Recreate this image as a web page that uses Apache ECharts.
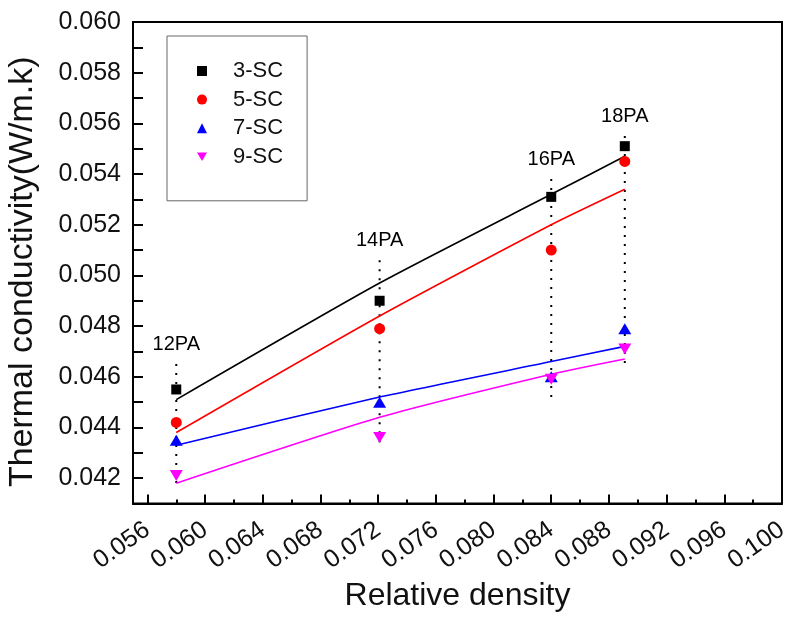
<!DOCTYPE html>
<html>
<head>
<meta charset="utf-8">
<script src="https://cdn.jsdelivr.net/npm/echarts@6/dist/echarts.min.js"></script>
<style>
  html, body { margin: 0; padding: 0; background: #fff; }
  #chart { width: 793px; height: 619px; }
</style>
</head>
<body>
<div id="chart"></div>
<script>
// values
const pressures = ['12PA', '14PA', '16PA', '18PA']
const density = [0.0580, 0.0721, 0.0840, 0.0891]
const sc3 = [0.0455, 0.0490, 0.0531, 0.0551]
const sc5 = [0.0442, 0.0479, 0.0510, 0.0545]
const sc7 = [0.0435, 0.0450, 0.0460, 0.0479]
const sc9 = [0.0421, 0.0436, 0.0459, 0.0471]
// fitted curves
const fit3 = [0.0451, 0.0497, 0.0532, 0.0547]
const fit5 = [0.0438, 0.0484, 0.0520, 0.0534]
const fit7 = [0.0433, 0.0452, 0.0466, 0.0472]
const fit9 = [0.0418, 0.0444, 0.0461, 0.0467]
// dotted guide lines
const dropTop = [0.0465, 0.0506, 0.0538, 0.0555]
const dropBottom = [0.0418, 0.0434, 0.0452, 0.0465]
// ticks
const xTicks = [0.056, 0.060, 0.064, 0.068, 0.072, 0.076, 0.080, 0.084, 0.088, 0.092, 0.096, 0.100]
const xMinorTicks = [0.058, 0.062, 0.066, 0.070, 0.074, 0.078, 0.082, 0.086, 0.090, 0.094, 0.098]
const yTicks = [0.042, 0.044, 0.046, 0.048, 0.050, 0.052, 0.054, 0.056, 0.058, 0.060]
const yMinorTicks = [0.043, 0.045, 0.047, 0.049, 0.051, 0.053, 0.055, 0.057, 0.059]

const FONT = 'Liberation Sans'
const pair = ys => density.map((x, i) => [x, ys[i]])

const groups = [
  { name: '3-SC', data: sc3, fit: fit3, color: '#000000', symbol: 'rect', size: 10 },
  { name: '5-SC', data: sc5, fit: fit5, color: '#ff0000', symbol: 'circle', size: 11 },
  { name: '7-SC', data: sc7, fit: fit7, color: '#0000ff', symbol: 'triangle', size: [13, 11] },
  { name: '9-SC', data: sc9, fit: fit9, color: '#ff00ff', symbol: 'path://M0,0L2,0L1,1.7Z', size: [13, 11] }
]

const series = []
groups.forEach(g => {
  series.push({
    name: g.name + ' fit',
    type: 'line',
    data: pair(g.fit),
    smooth: 0.2,
    showSymbol: false,
    lineStyle: { color: g.color, width: 1.6 },
    z: 3,
    silent: true
  })
})
density.forEach((x, i) => {
  series.push({
    type: 'line',
    data: [[x, dropTop[i]], [x, dropBottom[i]]],
    showSymbol: false,
    lineStyle: { color: '#000', width: 2, type: [2, 7] },
    z: 2,
    silent: true
  })
})
// pressure labels above the guide lines
series.push({
  type: 'scatter',
  data: pair(dropTop),
  symbolSize: 1,
  itemStyle: { color: 'rgba(0,0,0,0)', opacity: 1 },
  label: {
    show: true,
    position: 'top',
    distance: 9,
    formatter: p => pressures[p.dataIndex],
    fontFamily: FONT,
    fontSize: 20,
    color: '#000',
    opacity: 1
  },
  labelLayout: { hideOverlap: false },
  z: 4,
  silent: true
})
groups.forEach(g => {
  series.push({
    name: g.name,
    type: 'scatter',
    data: pair(g.data),
    symbol: g.symbol,
    symbolSize: g.size,
    itemStyle: { color: g.color, opacity: 1 },
    z: 5
  })
})

const chart = echarts.init(document.getElementById('chart'))
chart.setOption({
  backgroundColor: '#fff',
  animation: false,
  grid: {
    left: 133,
    right: 11,
    top: 22,
    bottom: 115.5,
    show: true,
    borderColor: '#000',
    borderWidth: 2,
    containLabel: false,
    outerBoundsMode: 'none'
  },
  legend: {
    data: groups.map(g => g.name),
    orient: 'vertical',
    left: 167,
    top: 36,
    itemWidth: 10,
    itemHeight: 10,
    itemGap: 6.6,
    padding: [24, 24, 33, 30],
    borderColor: '#666',
    borderWidth: 1,
    textStyle: {
      fontFamily: FONT,
      fontSize: 22,
      color: '#111',
      lineHeight: 18,
      padding: [0, 0, 0, 21]
    }
  },
  xAxis: [
    {
      type: 'value',
      min: 0.055,
      max: 0.100,
      name: 'Relative density',
      nameLocation: 'middle',
      nameGap: 68,
      nameTextStyle: { fontFamily: FONT, fontSize: 32, color: '#111' },
      splitLine: { show: false },
      axisLine: { lineStyle: { color: '#000', width: 2 } },
      axisTick: { inside: true, length: 9, lineStyle: { color: '#000', width: 2 }, customValues: xTicks },
      axisLabel: {
        customValues: xTicks,
        rotate: 35,
        margin: 24,
        fontFamily: FONT,
        fontSize: 25,
        color: '#111',
        formatter: v => v.toFixed(3)
      }
    },
    {
      type: 'value',
      min: 0.055,
      max: 0.100,
      position: 'bottom',
      splitLine: { show: false },
      axisLine: { show: false },
      axisTick: { inside: true, length: 4, lineStyle: { color: '#000', width: 2 }, customValues: xMinorTicks },
      axisLabel: { show: false }
    }
  ],
  yAxis: {
    type: 'value',
    min: 0.041,
    max: 0.060,
    name: 'Thermal conductivity(W/m.k)',
    nameLocation: 'middle',
    nameGap: 93,
    nameTextStyle: { fontFamily: FONT, fontSize: 34, color: '#111', padding: [0, 18, 0, 0] },
    splitLine: { show: false },
    axisLine: { lineStyle: { color: '#000', width: 2 } },
    axisTick: {
      inside: true,
      length: 10,
      lineStyle: { color: '#000', width: 2 },
      customValues: yTicks.concat(yMinorTicks).sort((a, b) => a - b)
    },
    axisLabel: {
      customValues: yTicks,
      margin: 12,
      fontFamily: FONT,
      fontSize: 25,
      color: '#111',
      formatter: v => v.toFixed(3)
    }
  },
  series: series
})
</script>
</body>
</html>
